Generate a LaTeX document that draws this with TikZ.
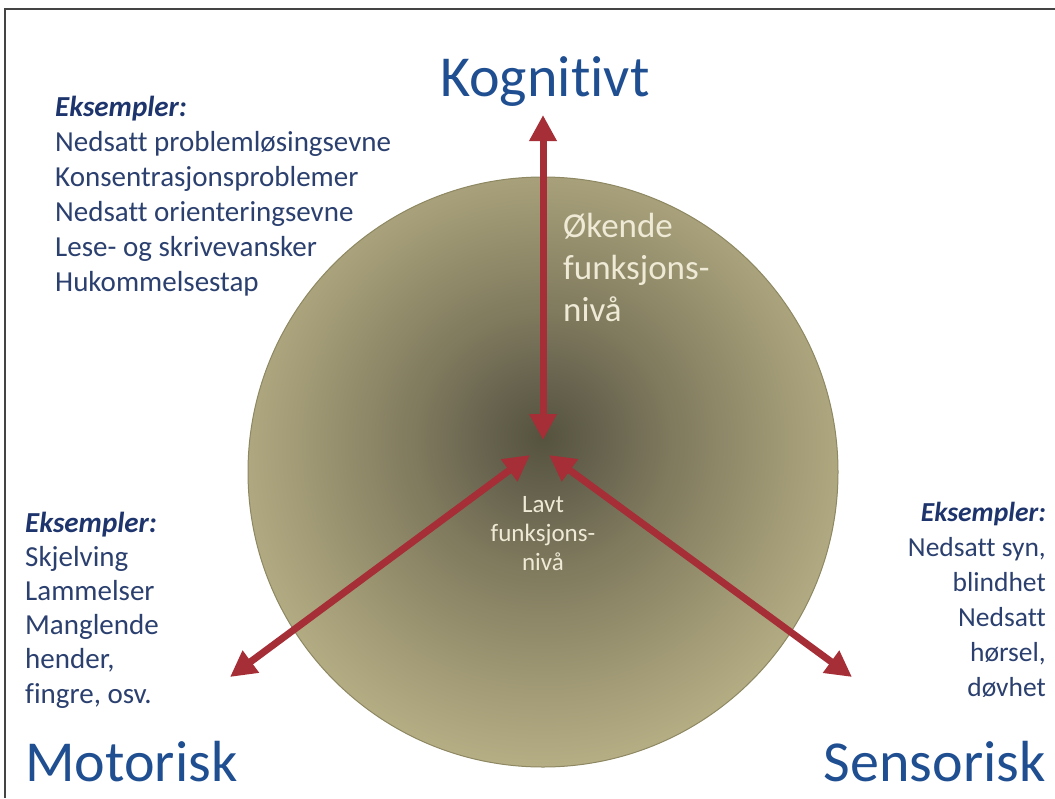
\documentclass[tikz,border=0pt]{standalone}
\usepackage{fontspec}
\setmainfont{Carlito}[Ligatures=NoCommon]
\usetikzlibrary{arrows.meta}
\definecolor{headblue}{HTML}{1F4E91}
\definecolor{txtblue}{HTML}{2B406F}
\definecolor{exblue}{HTML}{1E346C}
\definecolor{arrowred}{HTML}{A52E37}
\definecolor{dkA}{HTML}{55523E}
\definecolor{dkB}{HTML}{67634E}
\definecolor{dkC}{HTML}{807A5E}
\definecolor{dkD}{HTML}{9F9874}
\definecolor{dkE}{HTML}{B8B086}
\definecolor{dkF}{HTML}{C5BD90}
\definecolor{diskline}{HTML}{8E8862}
\definecolor{cream}{HTML}{EEEAD6}
\definecolor{framegray}{HTML}{444444}
\pgfdeclareradialshading{diskshade}{\pgfpoint{0bp}{3bp}}{color(0bp)=(dkA); color(5bp)=(dkB); color(11bp)=(dkC); color(20bp)=(dkD); color(28bp)=(dkE); color(35bp)=(dkF); color(100bp)=(dkF)}
\begin{document}
\begin{tikzpicture}[x=1pt,y=-1pt,
  frameline/.style={draw=framegray,line width=1.6pt},
  disk/.style={circle,minimum size=590pt,inner sep=0pt,shading=diskshade,draw=diskline,line width=1pt},
  arr/.style={draw=arrowred,line width=7pt,{Triangle[width=26pt,length=26pt]}-{Triangle[width=26pt,length=26pt]}},
  lbl/.style={inner sep=0pt,text=txtblue,font=\fontsize{29}{35}\selectfont},
  exlbl/.style={inner sep=0pt,text=exblue,font=\fontsize{29}{35}\selectfont\bfseries\itshape},
  rlbl/.style={inner sep=0pt,text=txtblue,font=\fontsize{27.5}{35}\selectfont},
  rexlbl/.style={inner sep=0pt,text=exblue,font=\fontsize{27.5}{35}\selectfont\bfseries\itshape},
  head/.style={inner sep=0pt,text=headblue,font=\fontsize{58}{68}\selectfont},
  inlbl/.style={inner sep=0pt,text=cream,font=\fontsize{35}{42}\selectfont},
  smlbl/.style={inner sep=0pt,text=cream,font=\fontsize{25}{29}\selectfont}]
\useasboundingbox (0,0) rectangle (1055,798);
\fill[white] (0,0) rectangle (1055,798);
\coordinate (fr1) at (1055,9);
\coordinate (fr2) at (5,9);
\coordinate (fr3) at (5,798);
\draw[frameline] (fr1) -- (fr2) -- (fr3);
\node[disk] (disk) at (543,472) {};
% arrows
\coordinate (cU) at (543,440);
\coordinate (kTip) at (543,115);
\coordinate (cL) at (530,455);
\coordinate (mTip) at (230,677);
\coordinate (cR) at (549,455);
\coordinate (sTip) at (852,677);
\draw[arr] (cU) -- (kTip);
\draw[arr] (cL) -- (mTip);
\draw[arr] (cR) -- (sTip);
% headings
\node[head,anchor=base] (kog) at (545,96) {Kognitivt};
\node[head,anchor=base west] (mot) at (25,781) {Motorisk};
\node[head,anchor=base east] (sen) at (1046,781) {Sensorisk};
% top-left examples
\node[exlbl,anchor=base west] (kex) at (55,116) {Eksempler:};
\foreach \t [count=\i] in {Nedsatt problemløsingsevne,Konsentrasjonsproblemer,Nedsatt orienteringsevne,Lese- og skrivevansker,Hukommelsestap}
  \node[lbl,anchor=base west] (k\i) at (55,116+35*\i) {\t};
% left examples
\node[exlbl,anchor=base west] (mex) at (25,532) {Eksempler:};
\foreach \t [count=\i] in {Skjelving,Lammelser,Manglende,{hender,},{fingre, osv.}}
  \node[lbl,anchor=base west] (m\i) at (25,532+34.2*\i) {\t};
% right examples
\node[rexlbl,anchor=base east] (sex) at (1046,521) {Eksempler:};
\foreach \t [count=\i] in {{Nedsatt syn,},blindhet,Nedsatt,{hørsel,},døvhet}
  \node[rlbl,anchor=base east] (s\i) at (1046,521+35*\i) {\t};
% inner labels
\foreach \t [count=\i] in {Økende,funksjons-,nivå}
  \node[inlbl,anchor=base west] (o\i) at (563,195+42*\i) {\t};
\foreach \t [count=\i] in {Lavt,funksjons-,nivå}
  \node[smlbl,anchor=base] (l\i) at (543,483+29*\i) {\t};
\end{tikzpicture}
\end{document}
